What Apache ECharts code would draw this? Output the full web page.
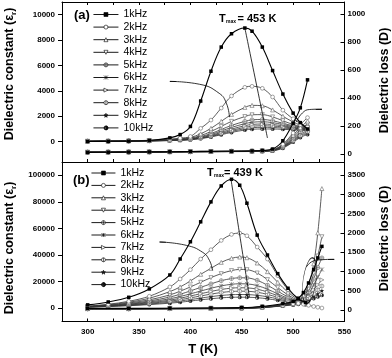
<!DOCTYPE html>
<html><head><meta charset="utf-8">
<script src="https://cdn.jsdelivr.net/npm/echarts@6/dist/echarts.min.js"></script>
<style>html,body{margin:0;padding:0;background:#fff}#c{width:392px;height:358px}</style>
</head><body><div id="c"></div>
<script>
// ---------- DATA ----------
const freqs = ['1kHz','2kHz','3kHz','4kHz','5kHz','6kHz','7kHz','8kHz','9kHz','10kHz'];
const xTicks = [300,350,400,450,500,550];
const yTicksA_left = [0,2000,4000,6000,8000,10000];
const yTicksA_right = [0,200,400,600,800,1000];
const yTicksB_left = [0,20000,40000,60000,80000,100000];
const yTicksB_right = [0,500,1000,1500,2000,2500,3000,3500];

// panel (a): dielectric constant
const T_A = [300,320,340,360,380,390,400,410,420,430,440,453,460,470,480,490,500,507,514];
const epsA_1k  = [20,30,45,95,300,560,1200,3200,5550,7450,8500,8950,8700,7450,5600,3750,2250,1500,1000];
const epsA_2k  = [40,50,70,110,200,280,410,1050,1700,2650,3600,4280,4360,4200,3520,2480,1800,1450,1150];
const epsA_3k  = [40,50,65,95,160,220,330,620,1050,1600,2150,2700,2860,2830,2500,2000,1550,1300,1100];
const epsA_4k  = [35,45,60,85,140,190,280,480,800,1200,1600,1980,2120,2130,1950,1650,1350,1200,1050];
const epsA_5k  = [35,42,55,80,125,165,240,400,640,960,1280,1600,1720,1750,1650,1450,1250,1150,1000];
const epsA_6k  = [30,40,52,75,115,150,215,350,560,840,1120,1420,1530,1570,1500,1350,1180,1100,980];
const epsA_7k  = [30,38,50,70,105,138,195,310,490,740,990,1260,1360,1390,1350,1250,1120,1050,950];
const epsA_8k  = [28,36,48,66,98,128,180,285,440,660,890,1130,1220,1250,1230,1160,1070,1010,930];
const epsA_9k  = [26,34,45,62,92,120,168,265,405,600,810,1020,1100,1130,1120,1070,1010,970,900];
const epsA_10k = [25,32,42,58,86,112,156,245,370,550,730,920,980,1000,1000,970,940,910,870];
// panel (a): dielectric loss
const T_A_loss = [300,320,340,360,380,400,420,440,460,470,480,490,500,507,514];
const lossA_1k  = [12,13,14,15,16,18,19,20,22,25,35,95,220,330,530];
const lossA_2k  = [14,14,15,16,17,18,19,20,22,24,30,70,150,210,260];
const lossA_3k  = [14,14,15,16,17,18,19,20,21,23,30,65,135,190,235];
const lossA_4k  = [13,14,15,15,16,17,18,19,21,23,28,60,125,175,215];
const lossA_5k  = [13,14,14,15,16,17,18,19,20,22,27,55,115,160,200];
const lossA_6k  = [13,13,14,15,16,17,18,19,20,22,26,52,108,150,185];
const lossA_7k  = [13,13,14,15,15,16,17,18,20,21,25,50,100,140,170];
const lossA_8k  = [12,13,14,14,15,16,17,18,19,21,25,48,95,132,160];
const lossA_9k  = [12,13,13,14,15,16,17,18,19,20,24,45,90,125,150];
const lossA_10k = [12,12,13,14,15,15,16,17,18,20,23,42,85,118,140];

// panel (b): dielectric constant
const T_B = [300,320,340,360,380,390,400,410,420,430,440,448,455,465,475,485,495,505,512];
const epsB_1k  = [2500,4700,8200,14500,25000,37000,50000,65000,80000,92000,97000,92500,79000,55000,40000,26000,15000,7000,4300];
const epsB_2k  = [1500,3000,5200,9000,16000,22000,29000,37000,44000,51000,55500,56500,54500,46000,37000,24500,14000,7500,4500];
const epsB_3k  = [1400,2600,4500,7500,12500,16000,20500,25500,30000,34500,37500,38500,38000,34000,27500,19500,12000,6500,4200];
const epsB_4k  = [1300,2300,3900,6300,10000,12800,16000,19500,23000,26000,28300,29200,29000,26500,21500,15500,10000,5800,4000];
const epsB_5k  = [1200,2100,3400,5400,8400,10500,13000,15700,18300,20700,22300,22900,22800,21000,17300,12800,8500,5200,3800];
const epsB_6k  = [1100,1900,3000,4700,7100,8800,10800,12900,15000,16800,18000,18400,18300,17000,14300,10800,7400,4700,3600];
const epsB_7k  = [1000,1700,2700,4100,6100,7500,9200,10900,12600,14100,15100,15400,15300,14300,12200,9400,6600,4400,3400];
const epsB_8k  = [950,1550,2400,3600,5300,6400,7800,9200,10600,11800,12600,12800,12750,12000,10400,8200,5900,4100,3200];
const epsB_9k  = [900,1400,2100,3100,4500,5400,6500,7600,8700,9600,10150,10300,10250,9700,8600,7000,5200,3800,3000];
const epsB_10k = [850,1300,1900,2700,3800,4500,5400,6300,7100,7800,8200,8300,8250,7900,7100,5900,4600,3500,2800];
// panel (b): dielectric loss
const T_B_loss = [300,340,380,420,450,470,490,500,505,510,515,520,524,528];
const lossB_1k  = [40,40,45,50,60,90,160,220,300,450,700,1050,1350,1650];
const lossB_2k  = [30,30,30,30,35,60,120,160,170,150,120,90,70,50];
const lossB_3k  = [35,35,40,45,55,80,140,200,260,380,650,1200,2000,3150];
const lossB_4k  = [35,35,40,45,55,80,135,190,240,340,550,950,1400,1900];
const lossB_5k  = [30,30,35,40,50,75,130,180,220,300,480,800,1100,1350];
const lossB_6k  = [30,30,35,40,50,70,125,170,200,270,420,650,850,1050];
const lossB_7k  = [30,30,35,40,48,68,120,160,185,240,360,520,650,780];
const lossB_8k  = [28,28,32,38,46,65,115,150,170,215,310,420,520,620];
const lossB_9k  = [28,28,32,36,44,62,110,140,160,195,270,350,420,500];
const lossB_10k = [25,25,30,35,42,60,105,130,150,180,240,300,340,380];

// annotations (data coordinates)
const annoA_tmax = [[453,8950],[475,290]];
const annoA_arcL = [[380,4750],[409,4520],[428,3810],[435,3030],[438,1930]];
const annoA_arcR = [[503,229],[509,293],[516,318],[528,321]];
const annoB_tmax = [[439.5,97000],[457.5,8300]];
const annoB_arcL = [[370,49800],[396,47300],[412,42000],[418.5,36000],[421.5,28500]];
const annoB_arcR = [[513,1120],[518,1250],[526,1300],[540,1315]];
const annoB_ellipse = [[516,760]];

// ---------- STYLE ----------
const FONT = "'Liberation Sans', Arial, Helvetica, sans-serif";
const CIRC = 'M0,5A5,5 0 1,1 10,5A5,5 0 1,1 0,5Z';
const SYMS = [
  {symbol:'rect', size:3.5, fill:'#000', bw:0},
  {symbol:'circle', size:3.8, fill:'#fff', bw:0.6},
  {symbol:'triangle', size:4, fill:'#fff', bw:0.6},
  {symbol:'path://M0,0L10,0L5,9Z', size:4, fill:'#fff', bw:0.6},
  {symbol:'path://'+CIRC+'M5,0L5,10M0,5L10,5', size:4, fill:'#fff', bw:0.6},
  {symbol:'path://M0,0L10,10M10,0L0,10M5,0L5,10', size:4, fill:'rgba(0,0,0,0)', bw:0.7},
  {symbol:'path://M0,0L9,5L0,10Z', size:4, fill:'#fff', bw:0.6},
  {symbol:'path://'+CIRC+'M5,0L5,10', size:4, fill:'#fff', bw:0.6},
  {symbol:'path://M5,0L6.18,3.38L9.76,3.45L6.9,5.62L7.94,9.05L5,7L2.06,9.05L3.1,5.62L0.24,3.45L3.82,3.38Z', size:4.5, fill:'#222', bw:0},
  {symbol:'path://M5,0A5,5 0 1,1 5,10A5,5 0 1,1 5,0ZM5,1.4A3.6,3.6 0 1,0 5,8.6A3.6,3.6 0 1,0 5,1.4ZM5,0A5,5 0 0,1 5,10Z', size:4, fill:'#222', bw:0}
];

function mk(name, xs, ys, xi, yi, k) {
  const s = SYMS[k];
  return {
    name, type:'line', xAxisIndex:xi, yAxisIndex:yi,
    data: xs.map((x,i)=>[x, ys[i]]),
    smooth: 0.35, symbol: s.symbol, symbolSize: s.size, showAllSymbol: true,
    lineStyle:{color: k===0?'#000':'#333', width: k===0?1.1:0.8},
    itemStyle:{color: s.fill, borderColor: k===0?'#000':'#666', borderWidth: s.bw},
    z: 30 - k, animation:false, silent:true
  };
}
function anno(data, xi, yi, arrow) {
  const o = {
    type:'line', xAxisIndex:xi, yAxisIndex:yi, data, smooth:0.5, symbol:'none',
    lineStyle:{color:'#000', width:0.8}, animation:false, silent:true, z:40
  };
  if (arrow) {
    o.markLine = {silent:true, animation:false, symbol:['none','arrow'], symbolSize:[0,6],
      lineStyle:{color:'#000', width:0.8, type:'solid'}, label:{show:false},
      data:[[{coord:arrow[0]},{coord:arrow[1]}]]};
  }
  return o;
}

const epsA = [epsA_1k,epsA_2k,epsA_3k,epsA_4k,epsA_5k,epsA_6k,epsA_7k,epsA_8k,epsA_9k,epsA_10k];
const lossA = [lossA_1k,lossA_2k,lossA_3k,lossA_4k,lossA_5k,lossA_6k,lossA_7k,lossA_8k,lossA_9k,lossA_10k];
const epsB = [epsB_1k,epsB_2k,epsB_3k,epsB_4k,epsB_5k,epsB_6k,epsB_7k,epsB_8k,epsB_9k,epsB_10k];
const lossB = [lossB_1k,lossB_2k,lossB_3k,lossB_4k,lossB_5k,lossB_6k,lossB_7k,lossB_8k,lossB_9k,lossB_10k];

const series = [];
for (let k = 9; k >= 0; k--) {
  series.push(mk(freqs[k], T_A, epsA[k], 0, 0, k));
  series.push(mk(freqs[k]+' D(a)', T_A_loss, lossA[k], 0, 1, k));
  series.push(mk(freqs[k], T_B, epsB[k], 2, 2, k));
  series.push(mk(freqs[k]+' D(b)', T_B_loss, lossB[k], 2, 3, k));
}
series.push(anno(annoA_tmax, 0, 0));
series.push(anno(annoA_arcL, 0, 0, [[386,4740], annoA_arcL[0]]));
series.push(anno(annoA_arcR, 0, 1, [[522,321], annoA_arcR[3]]));
series.push(anno(annoB_tmax, 2, 2));
series.push(anno(annoB_arcL, 2, 2, [[376,49600], annoB_arcL[0]]));
series.push(anno(annoB_arcR, 2, 3, [[534,1312], annoB_arcR[3]]));
series.push({type:'scatter', xAxisIndex:2, yAxisIndex:3, data:annoB_ellipse, symbol:'circle',
  symbolSize:[13,46], symbolRotate:-8, itemStyle:{color:'rgba(0,0,0,0)', borderColor:'#000', borderWidth:0.8},
  silent:true, animation:false, z:40});

const axisLine = {show:true, onZero:false, lineStyle:{color:'#000', width:1}};
const lblStyle = {fontSize:8, fontWeight:'bold', color:'#000', fontFamily:FONT};
function xAx(grid, pos, showLabel) {
  return {type:'value', gridIndex:grid, position:pos, min:275, max:550, interval:25,
    axisLine, splitLine:{show:false},
    axisTick:{show:true, inside:true, length:3, lineStyle:{color:'#000'}},
    axisLabel:{show:showLabel, margin:6, ...lblStyle, formatter:v => (v % 50 === 0 ? String(v) : '')}};
}
function yAx(grid, pos, min, max, ticks, inside) {
  return {type:'value', gridIndex:grid, position:pos, min, max,
    axisLine, splitLine:{show:false},
    axisTick:{show:true, inside, length:4, customValues:ticks, lineStyle:{color:'#000'}},
    axisLabel:{show:true, customValues:ticks, margin: inside ? 3 : 7, ...lblStyle, formatter:v => String(v)}};
}

const legendBase = {orient:'vertical', itemWidth:25, itemHeight:5, padding:0, selectedMode:false,
  itemStyle:{borderWidth:0.6, borderColor:'#000'},
  lineStyle:{width:0.9, color:'#000'},
  textStyle:{fontSize:10.5, fontFamily:FONT, color:'#000', lineHeight:10, padding:0}, data:freqs};

function txt(x, y, text, size, opts) {
  return Object.assign({type:'text', x, y, silent:true, z:100,
    style:{text, fontSize:size, fontWeight:'bold', fontFamily:FONT, fill:'#000', align:'left', verticalAlign:'middle'}}, opts||{});
}

const option = {
  backgroundColor:'#fff',
  animation:false,
  textStyle:{fontFamily:FONT},
  grid:[
    {left:62, right:47.5, top:2, height:160},
    {left:62, right:47.5, top:162, height:159.5}
  ],
  xAxis:[ xAx(0,'bottom',false), xAx(0,'top',false), xAx(1,'bottom',true) ],
  yAxis:[
    yAx(0,'left',-1600,11000,yTicksA_left,false),
    yAx(0,'right',-57,1086,yTicksA_right,true),
    yAx(1,'left',-10000,110000,yTicksB_left,false),
    yAx(1,'right',-300,3840,yTicksB_right,true)
  ],
  legend:[
    Object.assign({}, legendBase, {left:93, top:9, itemGap:1.6}),
    Object.assign({}, legendBase, {left:91, top:167.5, itemGap:1.4, itemWidth:24})
  ],
  series,
  graphic:[
    txt(74, 15, '(a)', 13),
    txt(73, 180, '(b)', 13),
    txt(219, 18.5, 'T', 11),
    txt(226, 21.5, 'max', 5),
    txt(237.5, 18.5, '= 453 K', 11),
    txt(207, 172.5, 'T', 11),
    txt(214, 175.5, 'max', 5),
    txt(224, 172.5, '= 439 K', 11),
    txt(203, 349, 'T (K)', 13, {style:{text:'T (K)', fontSize:13, fontWeight:'bold', fontFamily:FONT, fill:'#000', align:'center', verticalAlign:'middle'}}),
    {type:'text', x:10, y:74, rotation:Math.PI/2, silent:true, z:100,
      style:{text:'{a|Dielectric constant (ε}{s|r}{a|)}', align:'center', verticalAlign:'middle',
        rich:{a:{fontSize:12.5, fontWeight:'bold', fontFamily:FONT, fill:'#000'}, s:{fontSize:8, fontWeight:'bold', fontFamily:FONT, fill:'#000', padding:[7,0,0,0]}}}},
    {type:'text', x:10, y:248, rotation:Math.PI/2, silent:true, z:100,
      style:{text:'{a|Dielectric constant (ε}{s|r}{a|)}', align:'center', verticalAlign:'middle',
        rich:{a:{fontSize:12.5, fontWeight:'bold', fontFamily:FONT, fill:'#000'}, s:{fontSize:8, fontWeight:'bold', fontFamily:FONT, fill:'#000', padding:[7,0,0,0]}}}},
    {type:'text', x:385, y:80.5, rotation:Math.PI/2, silent:true, z:100,
      style:{text:'Dielectric loss (D)', fontSize:12.5, fontWeight:'bold', fontFamily:FONT, fill:'#000', align:'center', verticalAlign:'middle'}},
    {type:'text', x:385, y:238.5, rotation:Math.PI/2, silent:true, z:100,
      style:{text:'Dielectric loss (D)', fontSize:12.5, fontWeight:'bold', fontFamily:FONT, fill:'#000', align:'center', verticalAlign:'middle'}}
  ]
};
const chart = echarts.init(document.getElementById('c'), null, {renderer:'canvas'});
chart.setOption(option);
</script></body></html>
